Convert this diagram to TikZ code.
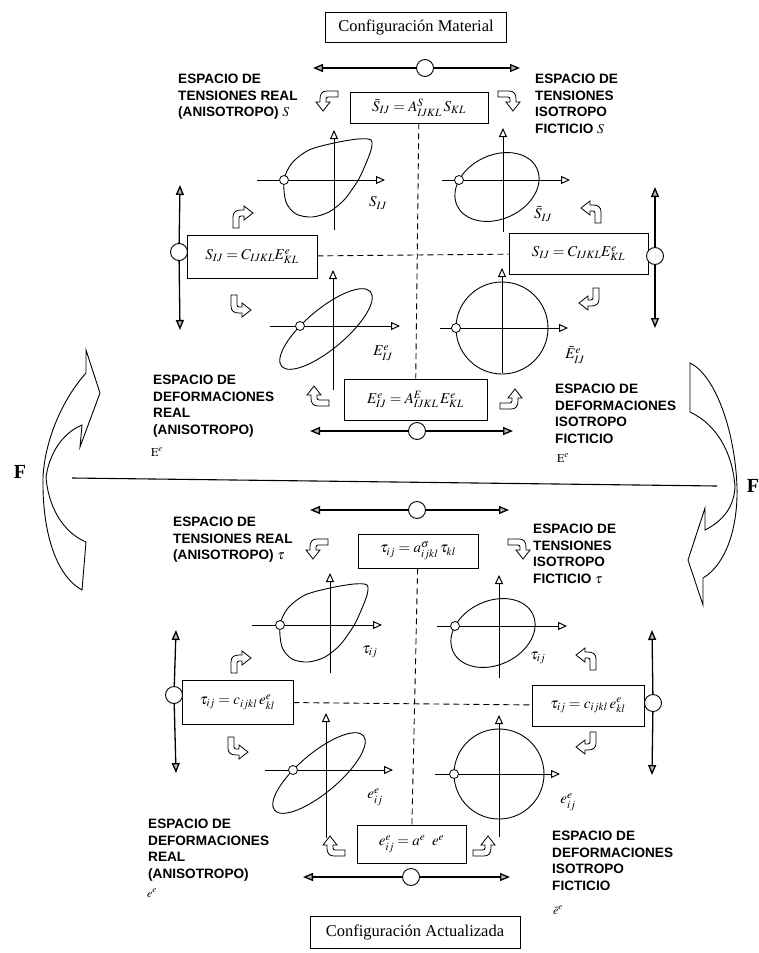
\documentclass[tikz,border=0pt]{standalone}
\usepackage{mathptmx}
\usepackage{fontspec}
\setmainfont{Liberation Serif}
\newfontfamily\lblfont{Liberation Sans}
\usetikzlibrary{arrows.meta,positioning}

\begin{document}
\begin{tikzpicture}[x=1pt,y=-1pt,
  eqbox/.style={draw,line width=0.9pt,fill=white,inner sep=0pt,font=\fontsize{15}{17}\selectfont},
  confbox/.style={draw,line width=0.9pt,inner sep=0pt,font=\fontsize{16.5}{19}\selectfont},
  spacetxt/.style={anchor=north west,align=left,inner sep=0pt,font=\lblfont\bfseries\fontsize{13.6}{16.6}\selectfont},
  sym/.style={inner sep=0pt,font=\fontsize{15}{17}\selectfont},
  minisym/.style={inner sep=0pt,font=\fontsize{12}{14}\selectfont},
  hinge/.style={circle,draw,line width=0.9pt,fill=white,minimum size=17pt,inner sep=0pt},
  knot/.style={circle,draw,line width=0.8pt,fill=white,minimum size=9pt,inner sep=0pt},
  dbl/.style={line width=1.3pt,-{Triangle[length=10pt,width=8pt,fill=gray!55]}},
  axis/.style={line width=1pt,-{Triangle[open,length=9pt,width=8pt]}},
  loopline/.style={line width=0.9pt},
  link/.style={line width=0.9pt,dash pattern=on 6pt off 4pt},
  bigarrow/.style={line width=0.9pt,fill=white},
  bendarrow/.pic={\draw[line width=0.8pt,fill=white] (-9,10) -- (-9,-1) .. controls (-9,-6) and (-6,-8) .. (-1,-8) -- (2,-8) -- (2,-12) -- (11,-5) -- (2,2) -- (2,-2) -- (-1,-2) .. controls (-2,-2) and (-3,-1) .. (-3,0) -- (-3,10) -- cycle;}
]
\path[fill=white,use as bounding box] (0,0) rectangle (758,953);

% material configuration
\node[confbox,minimum width=181pt,minimum height=30pt] (confM) at (416,27) {Configuración Material};
\node[hinge] (hM) at (425,68) {};
\coordinate (hML) at (313,68);
\coordinate (hMR) at (520,68);
\draw[dbl] (hM) -- (hML);
\draw[dbl] (hM) -- (hMR);

\node[eqbox,minimum width=138pt,minimum height=31pt] (eqS) at (419,107.5) {$\bar{S}_{IJ}=A^{S}_{IJKL}\,S_{KL}$};
\node[eqbox,minimum width=130pt,minimum height=43pt] (eqSL) at (252,256.5) {$S_{IJ}=C_{IJKL}E^{e}_{KL}$};
\node[eqbox,minimum width=139pt,minimum height=41pt] (eqSR) at (578.5,253.5) {$S_{IJ}=C_{IJKL}E^{e}_{KL}$};
\node[eqbox,minimum width=143pt,minimum height=41pt] (eqE) at (415.5,399.5) {$E^{e}_{IJ}=A^{E}_{IJKL}\,E^{e}_{KL}$};
\draw[link] (eqS) -- (eqE);
\draw[link] (eqSL) -- (eqSR);

\node[hinge] (hSL) at (179,252) {};
\coordinate (hSLu) at (180,185);
\coordinate (hSLd) at (180,330);
\draw[dbl] (hSL) -- (hSLu);
\draw[dbl] (hSL) -- (hSLd);
\node[hinge] (hSR) at (655,256) {};
\coordinate (hSRu) at (655,187);
\coordinate (hSRd) at (655,328);
\draw[dbl] (hSR) -- (hSRu);
\draw[dbl] (hSR) -- (hSRd);
\node[hinge] (hE) at (417,431) {};
\coordinate (hEL) at (310,431);
\coordinate (hER) at (513,431);
\draw[dbl] (hE) -- (hEL);
\draw[dbl] (hE) -- (hER);

\pic[rotate=90,xscale=-1] at (328,100) {bendarrow};
\pic[rotate=-90] at (508,100) {bendarrow};
\pic at (242,218) {bendarrow};
\pic[yscale=-1] at (240,305) {bendarrow};
\pic[xscale=-1] at (592,213) {bendarrow};
\pic[rotate=180] at (590,298) {bendarrow};
\pic[rotate=90] at (319,397) {bendarrow};
\pic[rotate=90,yscale=-1] at (510,400) {bendarrow};

\begin{scope}[shift={(334,180)}]
  \draw[axis] (-77,0) -- (51,0);
  \draw[axis] (0,50) -- (0,-50);
  \draw[loopline] plot[smooth cycle] coordinates {(-50,0) (-42,-17) (-25,-30) (0,-37) (24,-41) (37,-40) (37,-30) (30,-12) (23,2) (10,20) (-5,32) (-22,37) (-38,34) (-48,22)};
  \node[knot] (kS) at (-50,0) {};
\end{scope}
\begin{scope}[shift={(503,180)}]
  \draw[axis] (-61,0) -- (67,0);
  \draw[axis] (0,52) -- (0,-52);
  \draw[loopline,rotate around={25:(-6,7)}] (-6,7) ellipse [x radius=44,y radius=32];
  \node[knot] (kSb) at (-44,0) {};
\end{scope}
\begin{scope}[shift={(333,326)}]
  \draw[axis] (-63,0) -- (67,0);
  \draw[axis] (0,64) -- (0,-56);
  \draw[loopline,rotate around={40:(-7,3)}] (-7,3) ellipse [x radius=58,y radius=20];
  \node[knot] (kE) at (-33,0) {};
\end{scope}
\begin{scope}[shift={(502,328)}]
  \draw[axis] (-62,0) -- (66,0);
  \draw[axis] (0,45) -- (0,-60);
  \draw[loopline] (0,0) circle [radius=46];
  \node[knot] (kEb) at (-46,0) {};
\end{scope}

\node[sym] (lS) at (378,203) {$S_{IJ}$};
\node[sym] (lSb) at (543,214) {$\bar{S}_{IJ}$};
\node[sym] (lE) at (383,353) {$E^{e}_{IJ}$};
\node[sym] (lEb) at (575,355) {$\bar{E}^{e}_{IJ}$};

\node[spacetxt] (tTL) at (178,74) {ESPACIO DE\\TENSIONES REAL\\(ANISOTROPO) $S$};
\node[spacetxt] (tTR) at (535,74) {ESPACIO DE\\TENSIONES\\ISOTROPO\\FICTICIO $S$};
\node[spacetxt] (tML) at (153,375) {ESPACIO DE\\DEFORMACIONES\\REAL\\(ANISOTROPO)};
\node[minisym] (tMLe) at (157,452) {$\mathrm{E}^{e}$};
\node[spacetxt] (tMR) at (555,384) {ESPACIO DE\\DEFORMACIONES\\ISOTROPO\\FICTICIO};
\node[minisym] (tMRe) at (563,458) {$\mathrm{E}^{e}$};

% material / spatial split
\coordinate (midL) at (72,478);
\coordinate (midR) at (717,486);
\draw[line width=1.1pt] (midL) -- (midR);
\node[font=\bfseries\fontsize{20}{22}\selectfont] (fL) at (20,472) {F};
\node[font=\bfseries\fontsize{20}{22}\selectfont] (fR) at (753,486) {F};
\draw[bigarrow] (86,373) .. controls (62,400) and (45,440) .. (43,477) .. controls (42,530) and (55,575) .. (82,590) -- (86,542) .. controls (62,532) and (48,505) .. (46,477) .. controls (50,450) and (65,432) .. (82,425) -- (80,447) -- (100,393) -- (86,350) -- cycle;
\draw[bigarrow] (690,363) .. controls (715,375) and (735,430) .. (737,487) .. controls (738,530) and (725,565) .. (703,578) -- (703,605) -- (688,560) -- (705,508) -- (705,530) .. controls (725,520) and (734,505) .. (735,487) .. controls (733,455) and (718,425) .. (690,412) -- cycle;

% spatial configuration
\node[hinge] (hT) at (417,510) {};
\coordinate (hTL) at (310,510);
\coordinate (hTR) at (509,510);
\draw[dbl] (hT) -- (hTL);
\draw[dbl] (hT) -- (hTR);

\node[eqbox,minimum width=120pt,minimum height=34pt] (eqt) at (418,551) {$\tau_{ij}=a^{\sigma}_{ijkl}\,\tau_{kl}$};
\node[eqbox,minimum width=111pt,minimum height=44pt] (eqtL) at (237.5,702) {$\tau_{ij}=c_{ijkl}\,e^{e}_{kl}$};
\node[eqbox,minimum width=112pt,minimum height=41pt] (eqtR) at (588,705.5) {$\tau_{ij}=c_{ijkl}\,e^{e}_{kl}$};
\node[eqbox,minimum width=109pt,minimum height=38pt] (eqe) at (411.5,844) {$e^{e}_{ij}=a^{e}\;\;e^{e}$};
\draw[link] (eqt) -- (eqe);
\draw[link] (eqtL) -- (eqtR);

\node[hinge] (htL) at (174,695) {};
\coordinate (htLu) at (176,630);
\coordinate (htLd) at (176,773);
\draw[dbl] (htL) -- (htLu);
\draw[dbl] (htL) -- (htLd);
\node[hinge] (htR) at (653,703) {};
\coordinate (htRu) at (652,630);
\coordinate (htRd) at (652,775);
\draw[dbl] (htR) -- (htRu);
\draw[dbl] (htR) -- (htRd);
\node[hinge] (he) at (411,877) {};
\coordinate (heL) at (303,877);
\coordinate (heR) at (510,877);
\draw[dbl] (he) -- (heL);
\draw[dbl] (he) -- (heR);

\pic[rotate=90,xscale=-1] at (318,548) {bendarrow};
\pic[rotate=-90] at (518,548) {bendarrow};
\pic at (240,663) {bendarrow};
\pic[yscale=-1] at (237,747) {bendarrow};
\pic[xscale=-1] at (587,660) {bendarrow};
\pic[rotate=180] at (587,742) {bendarrow};
\pic[rotate=90] at (335,847) {bendarrow};
\pic[rotate=90,yscale=-1] at (483,847) {bendarrow};

\begin{scope}[shift={(330,625)}]
  \draw[axis] (-78,0) -- (52,0);
  \draw[axis] (0,48) -- (0,-52);
  \draw[loopline] plot[smooth cycle] coordinates {(-50,0) (-42,-17) (-25,-30) (0,-37) (24,-41) (37,-40) (37,-30) (30,-12) (23,2) (10,20) (-5,32) (-22,37) (-38,34) (-48,22)};
  \node[knot] (kt) at (-50,0) {};
\end{scope}
\begin{scope}[shift={(499,626)}]
  \draw[axis] (-62,0) -- (68,0);
  \draw[axis] (0,52) -- (0,-51);
  \draw[loopline,rotate around={25:(-6,7)}] (-6,7) ellipse [x radius=44,y radius=32];
  \node[knot] (ktb) at (-44,0) {};
\end{scope}
\begin{scope}[shift={(326,770)}]
  \draw[axis] (-61,0) -- (67,0);
  \draw[axis] (0,68) -- (0,-57);
  \draw[loopline,rotate around={40:(-7,3)}] (-7,3) ellipse [x radius=58,y radius=20];
  \node[knot] (ke) at (-33,0) {};
\end{scope}
\begin{scope}[shift={(499,774)}]
  \draw[axis] (-64,0) -- (61,0);
  \draw[axis] (0,63) -- (0,-59);
  \draw[loopline] (0,0) circle [radius=45];
  \node[knot] (keb) at (-45,0) {};
\end{scope}

\node[sym] (lt) at (370,652) {$\tau_{ij}$};
\node[sym] (ltb) at (538,658) {$\tau_{ij}$};
\node[sym] (le) at (375,797) {$e^{e}_{ij}$};
\node[sym] (leb) at (568,802) {$e^{e}_{ij}$};

\node[spacetxt] (tBL) at (173,517) {ESPACIO DE\\TENSIONES REAL\\(ANISOTROPO) $\tau$};
\node[spacetxt] (tBR) at (533,524) {ESPACIO DE\\TENSIONES\\ISOTROPO\\FICTICIO $\tau$};
\node[spacetxt] (tBBL) at (148,819) {ESPACIO DE\\DEFORMACIONES\\REAL\\(ANISOTROPO)};
\node[minisym] (tBBLe) at (152,893) {$e^{e}$};
\node[spacetxt] (tBBR) at (552,831) {ESPACIO DE\\DEFORMACIONES\\ISOTROPO\\FICTICIO};
\node[minisym] (tBBRe) at (558,910) {$\bar{e}^{e}$};

\node[confbox,minimum width=210pt,minimum height=32pt] (confA) at (415,932) {Configuración Actualizada};
\end{tikzpicture}
\end{document}
